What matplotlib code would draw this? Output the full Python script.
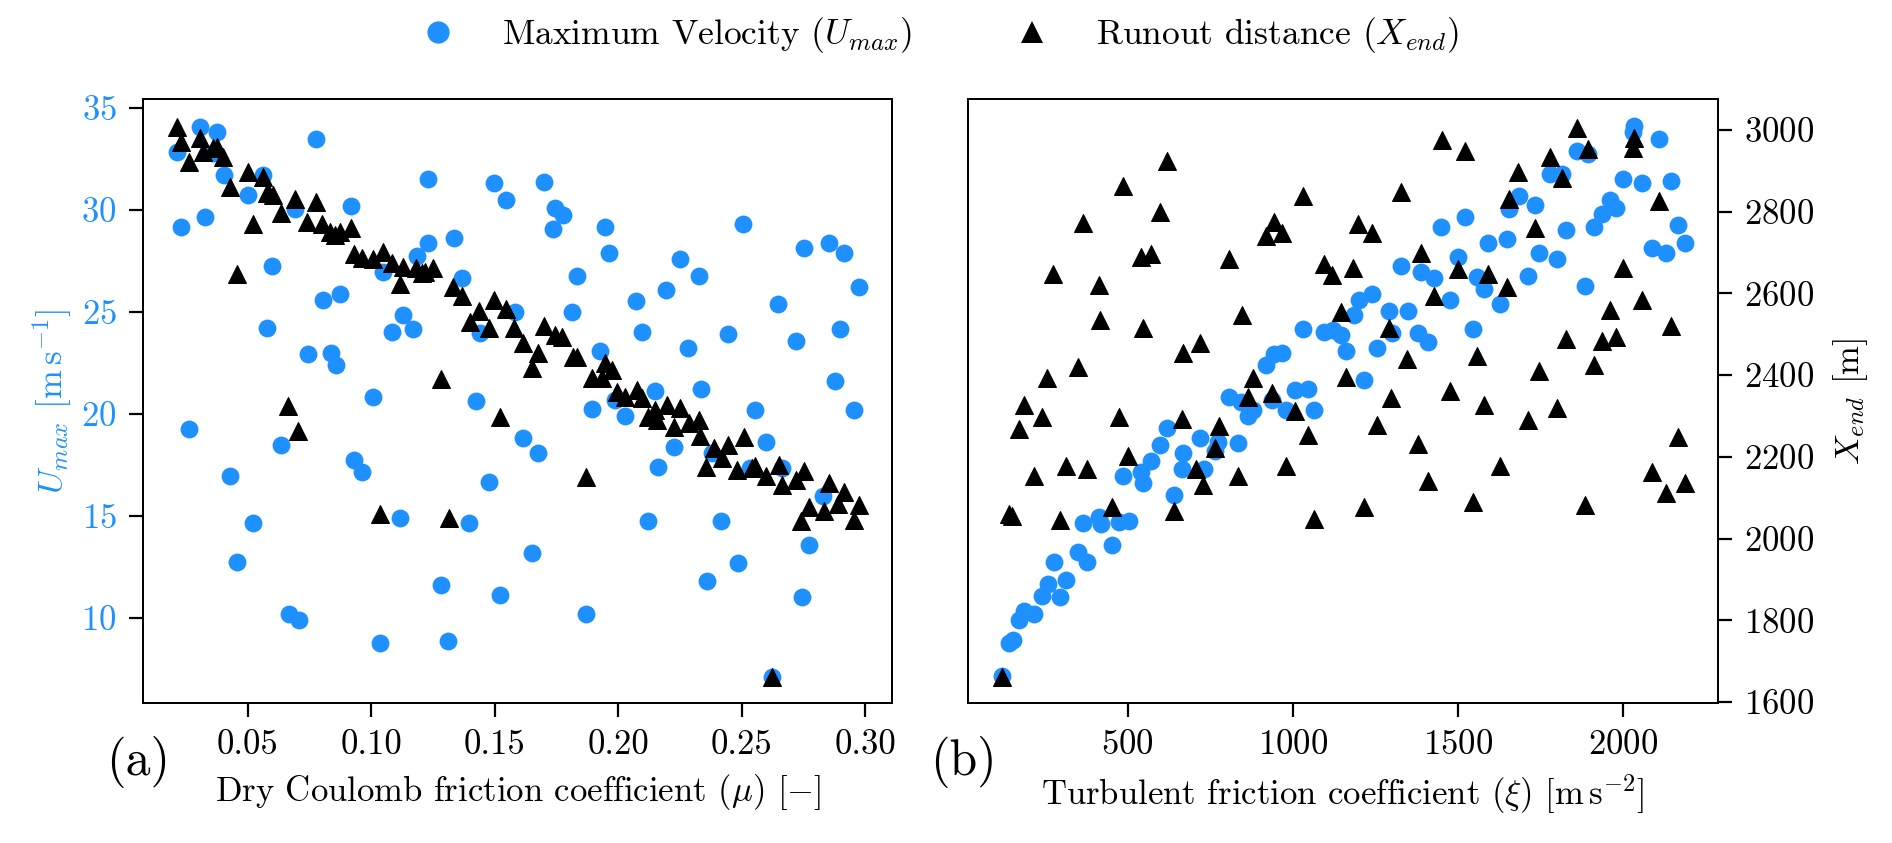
import numpy as np
import matplotlib
matplotlib.use("Agg")
import matplotlib.pyplot as plt
from matplotlib.lines import Line2D

plt.rcParams['font.family'] = 'serif'
plt.rcParams['font.serif'] = ['cmr10']
plt.rcParams['mathtext.fontset'] = 'cm'
plt.rcParams['axes.formatter.use_mathtext'] = True

blue = "#1E90FF"

# panel (a): dry Coulomb friction mu vs Umax
mu_u = [0.0211, 0.0306, 0.0373, 0.0360, 0.0403, 0.0229, 0.0326, 0.0501, 0.0562, 0.0776,
        0.0690, 0.0917, 0.0596, 0.0803, 0.0873, 0.0578, 0.1230, 0.1230, 0.1183, 0.1046,
        0.1127, 0.1085, 0.1170,
        0.0742, 0.0836, 0.0857, 0.1005, 0.0262, 0.0632, 0.0929, 0.0961, 0.0427, 0.0519,
        0.1116, 0.0454,
        0.0665, 0.0706, 0.1033, 0.1280, 0.1312, 0.1522, 0.1869, 0.2357, 0.2484, 0.1650,
        0.1497, 0.1545, 0.1697, 0.1744, 0.1775, 0.1737, 0.1946, 0.1964, 0.2504, 0.1336,
        0.1368, 0.1832, 0.1814, 0.2072, 0.2250, 0.2325, 0.2192, 0.1582, 0.2095, 0.2446,
        0.1440,
        0.1926, 0.2284, 0.2149, 0.2334, 0.1424, 0.1895, 0.1987, 0.2028, 0.1615, 0.1676,
        0.2227, 0.2379, 0.2160, 0.1477, 0.1397, 0.2119, 0.2417,
        0.2753, 0.2854, 0.2915, 0.2973, 0.2646, 0.2718, 0.2898, 0.2879, 0.2555, 0.2953,
        0.2599, 0.2534, 0.2662, 0.2829, 0.2774, 0.2744, 0.2624]
umax_a = [32.86, 34.08, 33.84, 32.78, 31.72, 29.18, 29.67, 30.74, 31.72, 33.48,
          30.03, 30.21, 27.27, 25.59, 25.87, 24.20, 31.52, 28.37, 27.75, 26.95,
          24.85, 24.03, 24.15,
          22.93, 23.00, 22.40, 20.82, 19.26, 18.48, 17.75, 17.14, 16.96, 14.64,
          14.92, 12.76,
          10.18, 9.90, 8.76, 11.60, 8.89, 11.10, 10.20, 11.80, 12.70, 13.20,
          31.31, 30.49, 31.39, 30.11, 29.75, 29.07, 29.15, 27.88, 29.31, 28.61,
          26.65, 26.76, 25.01, 25.56, 27.58, 26.76, 26.08, 25.01, 24.03, 23.92,
          23.96,
          23.09, 23.25, 21.13, 21.20, 20.64, 20.24, 20.69, 19.90, 18.81, 18.07,
          18.40, 18.10, 17.40, 16.64, 14.64, 14.77, 14.75,
          28.11, 28.39, 27.90, 26.23, 25.38, 23.56, 24.15, 21.60, 20.18, 20.18,
          18.60, 17.35, 17.35, 16.00, 13.57, 11.04, 7.11]

mu_x = [0.0211, 0.0229, 0.0262, 0.0306, 0.0319, 0.0359, 0.0373, 0.0400, 0.0427, 0.0501,
        0.0519, 0.0454, 0.0560, 0.0582, 0.0576, 0.0603, 0.0634, 0.0690, 0.0776, 0.0740,
        0.0799, 0.0832, 0.0853, 0.0873, 0.0916, 0.0929, 0.0961, 0.1005, 0.1046, 0.1082,
        0.1116, 0.1127, 0.1181, 0.1217,
        0.0663, 0.0704, 0.1034,
        0.1251, 0.1204, 0.1332, 0.1366, 0.1497, 0.1545, 0.1437, 0.1400, 0.1478, 0.1579,
        0.1697, 0.1744, 0.1771,
        0.1615, 0.1676, 0.1649, 0.1281, 0.1519, 0.1868, 0.1314, 0.1818, 0.1832, 0.1946,
        0.1892, 0.1933, 0.1974, 0.1994, 0.2028, 0.2075, 0.2095, 0.2150, 0.2122, 0.2196,
        0.2250, 0.2158, 0.2226, 0.2288, 0.2325, 0.2332, 0.2386, 0.2446, 0.2507, 0.2419,
        0.2356, 0.2480,
        0.2541, 0.2554, 0.2599, 0.2649, 0.2663, 0.2753, 0.2719, 0.2854, 0.2915, 0.2774,
        0.2831, 0.2888, 0.2973, 0.2739, 0.2953, 0.2624]
xend_a = [3008, 2971, 2922, 2980, 2947, 2955, 2959, 2935, 2861, 2898,
          2770, 2647, 2884, 2849, 2845, 2841, 2797, 2831, 2824, 2775,
          2770, 2751, 2743, 2751, 2759, 2696, 2686, 2684, 2702, 2674,
          2623, 2665, 2661, 2653,
          2324, 2264, 2059,
          2661, 2649, 2616, 2594, 2584, 2561, 2558, 2531, 2515, 2515,
          2520, 2498, 2494,
          2478, 2453, 2417, 2390, 2298, 2150, 2051, 2445, 2445, 2429,
          2392, 2392, 2413, 2359, 2347, 2364, 2343, 2315, 2298, 2327,
          2319, 2290, 2274, 2282, 2290, 2251, 2221, 2229, 2249, 2196,
          2176, 2168,
          2172, 2177, 2153, 2179, 2130, 2166, 2144, 2137, 2113, 2078,
          2068, 2084, 2081, 2043, 2046, 1661]

# panel (b): turbulent friction xi
xi_u = [119, 141, 151, 170, 185, 217, 240, 258, 295, 314,
        276, 350, 378, 365, 414, 419, 474, 504, 451, 487,
        539, 547, 572, 599, 620, 641, 667, 663, 718, 730,
        774, 765, 835, 806, 843, 879, 864, 918, 942, 967,
        937, 981, 1008, 1047, 1065, 1030, 1094, 1123, 1145, 1160,
        1215, 1186, 1200, 1241, 1256, 1293, 1300, 1349, 1379, 1409,
        1328, 1387, 1427, 1477, 1449, 1522, 1500, 1558, 1580, 1547,
        1592, 1628, 1649, 1656, 1685, 1734, 1713, 1745, 1799, 1829,
        1778, 1817, 1862, 1894, 1884, 1913, 1938, 1960, 1978, 1999,
        2033, 2030, 2059, 2109, 2147, 2168, 2187, 2087, 2131]
umax_b = [7.17, 8.76, 8.91, 9.90, 10.33, 10.20, 11.09, 11.66, 11.04, 11.85,
          12.76, 13.23, 12.76, 14.63, 14.94, 14.60, 14.69, 14.75, 13.56, 16.97,
          17.16, 16.59, 17.69, 18.48, 19.30, 16.02, 18.10, 17.29, 18.80, 17.31,
          18.62, 18.20, 18.58, 20.85, 20.57, 20.19, 19.90, 22.40, 22.93, 22.99,
          20.70, 20.19, 21.19, 21.23, 20.19, 24.17, 24.03, 24.13, 23.85, 23.09,
          21.65, 24.83, 25.59, 25.87, 23.22, 25.06, 23.98, 25.06, 23.98, 23.54,
          27.25, 26.97, 26.67, 25.59, 29.15, 29.66, 27.71, 26.73, 26.10, 24.17,
          28.37, 25.40, 28.58, 30.04, 30.70, 30.23, 26.76, 27.90, 27.58, 29.04,
          31.75, 31.75, 32.88, 32.75, 26.25, 29.15, 29.79, 30.48, 30.10, 31.52,
          34.11, 33.83, 31.31, 33.49, 31.41, 29.28, 28.39, 28.15, 27.90]

xi_x = [119, 141, 148, 170, 185, 240, 217, 255, 273, 295,
        314, 350, 365, 378, 413, 416, 451, 474, 487, 502,
        539, 572, 546, 597, 620, 641, 667, 718, 707, 728,
        663, 765, 777, 806, 835, 845, 864, 879, 918, 942,
        967, 937, 981, 1006, 1030, 1047, 1065, 1094, 1120, 1145,
        1160, 1183, 1198, 1241, 1215, 1256, 1293, 1298, 1328, 1347,
        1379, 1387, 1409, 1427, 1452, 1477, 1500, 1522, 1547, 1558,
        1580, 1592, 1628, 1649, 1656, 1683, 1712, 1734, 1745, 1778,
        1799, 1817, 1829, 1862, 1894, 1884, 1913, 1938, 1978, 1960,
        1999, 2033, 2030, 2059, 2109, 2147, 2168, 2087, 2131, 2187]
xend_b = [1662, 2059, 2054, 2267, 2328, 2298, 2153, 2393, 2648, 2045,
          2177, 2420, 2773, 2170, 2620, 2534, 2078, 2298, 2863, 2201,
          2688, 2697, 2516, 2800, 2924, 2068, 2453, 2478, 2170, 2132,
          2293, 2222, 2276, 2685, 2153, 2546, 2346, 2393, 2740, 2775,
          2748, 2357, 2177, 2311, 2839, 2253, 2049, 2671, 2645, 2555,
          2395, 2661, 2771, 2749, 2078, 2279, 2516, 2345, 2849, 2440,
          2231, 2699, 2141, 2593, 2976, 2362, 2660, 2948, 2090, 2447,
          2326, 2647, 2177, 2615, 2832, 2896, 2289, 2759, 2409, 2934,
          2319, 2882, 2489, 3005, 2953, 2081, 2425, 2483, 2494, 2560,
          2662, 2981, 2955, 2584, 2825, 2520, 2248, 2163, 2111, 2135]

fig = plt.figure(figsize=(18.92, 8.43), dpi=100)
ax1 = fig.add_axes([0.0756, 0.1661, 0.3961, 0.7165])
ax2 = fig.add_axes([0.5116, 0.1661, 0.3964, 0.7165])
ax1t = ax1.twinx()
ax2t = ax2.twinx()

s_c = 165
s_t = 165

ax1.scatter(mu_u, umax_a, s=s_c, color=blue, marker='o', linewidths=0)
ax1t.scatter(mu_x, xend_a, s=s_t, color='black', marker='^', linewidths=0.8, edgecolors='black')
ax2.scatter(xi_u, umax_b, s=s_c, color=blue, marker='o', linewidths=0)
ax2t.scatter(xi_x, xend_b, s=s_t, color='black', marker='^', linewidths=0.8, edgecolors='black')

for a in (ax1, ax2):
    a.set_ylim(5.83, 35.44)
for a in (ax1t, ax2t):
    a.set_ylim(1597.6, 3075.8)
ax1.set_xlim(0.0075, 0.311)
ax2.set_xlim(16, 2288)

ax1.set_xticks([0.05, 0.10, 0.15, 0.20, 0.25, 0.30])
ax1.set_xticklabels(["0.05", "0.10", "0.15", "0.20", "0.25", "0.30"])
ax2.set_xticks([500, 1000, 1500, 2000])
ax1.set_yticks([10, 15, 20, 25, 30, 35])
ax2t.set_yticks([1600, 1800, 2000, 2200, 2400, 2600, 2800, 3000])

tick_kw = dict(direction='out', length=10, width=1.6, labelsize=25, pad=9)
ax1.tick_params(axis='x', **tick_kw)
ax2.tick_params(axis='x', **tick_kw)
ax1.tick_params(axis='y', labelcolor=blue, **tick_kw)
ax2t.tick_params(axis='y', **tick_kw)
ax2.tick_params(axis='y', left=False, labelleft=False)
ax1t.tick_params(axis='y', right=False, labelright=False)

for a in (ax1, ax2, ax1t, ax2t):
    for sp in a.spines.values():
        sp.set_linewidth(1.3)

ax1.set_xlabel(r"Dry Coulomb friction coefficient ($\mu$) [$-$]", fontsize=25, labelpad=8)
ax2.set_xlabel(r"Turbulent friction coefficient ($\xi$) [m$\,$s$^{-2}$]", fontsize=25, labelpad=8)
ax1.set_ylabel(r"$U_{max}$ [m$\,$s$^{-1}$]", fontsize=25, color=blue, labelpad=5)
ax2t.set_ylabel(r"$X_{end}$ [m]", fontsize=25, labelpad=12)

fig.text(106 / 1892, 1 - 762 / 843, "(a)", fontsize=36, ha='left', va='center')
fig.text(930 / 1892, 1 - 762 / 843, "(b)", fontsize=36, ha='left', va='center')

handles = [
    Line2D([], [], linestyle='none', marker='o', markersize=16, color=blue,
           markeredgewidth=0, label=r"Maximum Velocity ($U_{max}$)"),
    Line2D([], [], linestyle='none', marker='^', markersize=16, color='black',
           markeredgewidth=0, label=r"Runout distance ($X_{end}$)"),
]
fig.legend(handles=handles, loc='center', bbox_to_anchor=(0.492, 0.958), ncol=2,
           frameon=False, fontsize=25.5, handletextpad=0.8, columnspacing=2.4)

fig.savefig("out.png", dpi=100)
